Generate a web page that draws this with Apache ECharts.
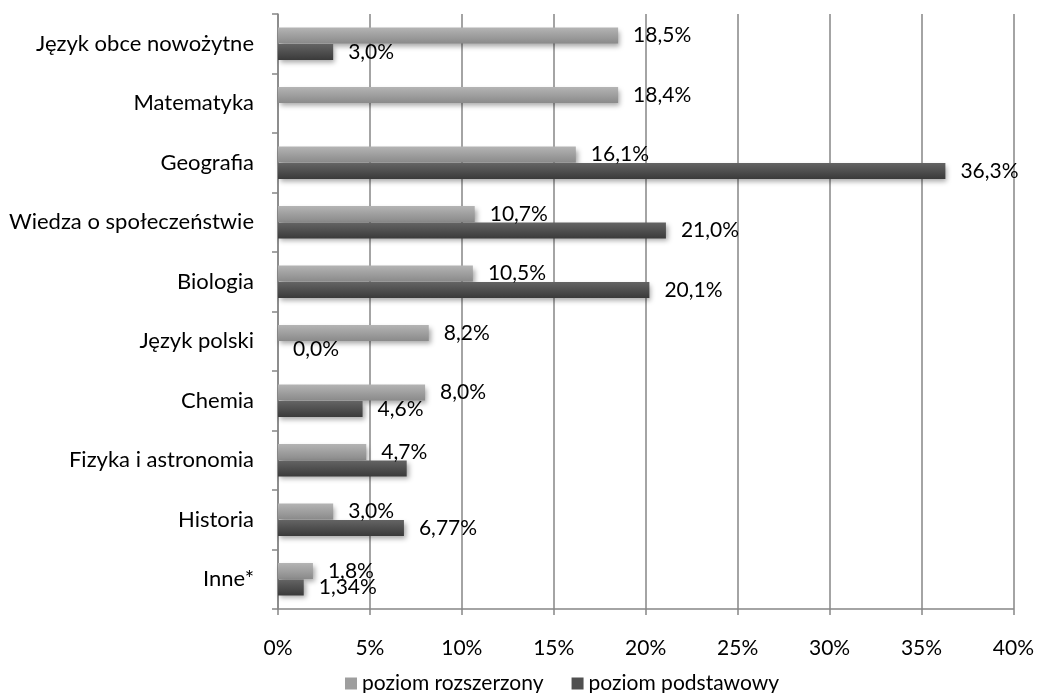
<!DOCTYPE html>
<html>
<head>
<meta charset="utf-8">
<script src="https://cdn.jsdelivr.net/npm/echarts@6/dist/echarts.min.js"></script>
<style>
  html, body { margin: 0; padding: 0; background: #fff; }
  #chart { width: 1037px; height: 693px; }
</style>
</head>
<body>
<div id="chart"></div>
<script>
const categories = [
  "Język obce nowożytne", "Matematyka", "Geografia", "Wiedza o społeczeństwie",
  "Biologia", "Język polski", "Chemia", "Fizyka i astronomia", "Historia", "Inne*"
];
// bar lengths as drawn (%)
const rozszerzony = [18.5, 18.5, 16.2, 10.7, 10.6, 8.2, 8.0, 4.8, 3.0, 1.9];
const podstawowy = [3.0, null, 36.3, 21.1, 20.2, 0, 4.6, 7.0, 6.85, 1.4];
// label texts as printed
const rozszerzonyLabels = ["18,5%", "18,4%", "16,1%", "10,7%", "10,5%", "8,2%", "8,0%", "4,7%", "3,0%", "1,8%"];
const podstawowyLabels = ["3,0%", "", "36,3%", "21,0%", "20,1%", "0,0%", "4,6%", "", "6,77%", "1,34%"];
const xTicks = [0, 5, 10, 15, 20, 25, 30, 35, 40];

const FONT = "Lato";

function gradient(top, bottom) {
  return new echarts.graphic.LinearGradient(0, 0, 0, 1, [
    { offset: 0, color: top },
    { offset: 1, color: bottom },
  ]);
}

let chart = echarts.init(document.getElementById("chart"));
let option = {
  animation: false,
  textStyle: { fontFamily: FONT },
  grid: {
    left: 278,
    right: 23,
    top: 14,
    bottom: 84,
  },
  legend: {
    left: 340,
    top: 668,
    itemWidth: 12,
    itemHeight: 12,
    itemGap: 28,
    icon: "rect",
    textStyle: { fontFamily: FONT, fontSize: 21, color: "#000", padding: [0, 0, 0, 0] },
    data: [
      { name: "poziom rozszerzony", itemStyle: { color: "#9e9e9e" } },
      { name: "poziom podstawowy", itemStyle: { color: "#505050" } },
    ],
  },
  xAxis: {
    type: "value",
    min: xTicks[0],
    max: xTicks[xTicks.length - 1],
    interval: 5,
    axisLine: { show: true, lineStyle: { color: "#868686", width: 1.5 } },
    axisTick: { show: true, length: 6, lineStyle: { color: "#868686", width: 1.5 } },
    splitLine: { show: true, lineStyle: { color: "#868686", width: 1.5 } },
    axisLabel: {
      margin: 29,
      fontFamily: FONT,
      fontSize: 21,
      color: "#000",
      formatter: (v) => v + "%",
    },
  },
  yAxis: {
    type: "category",
    inverse: true,
    data: categories,
    axisLine: { show: true, lineStyle: { color: "#868686", width: 1.5 } },
    axisTick: { show: true, length: 6, lineStyle: { color: "#868686", width: 1.5 } },
    axisLabel: {
      margin: 24,
      fontFamily: FONT,
      fontSize: 22,
      color: "#000",
    },
  },
  series: [
    {
      name: "poziom rozszerzony",
      type: "bar",
      data: rozszerzony,
      barWidth: 16,
      barGap: "3%",
      itemStyle: {
        color: gradient("#b4b4b4", "#8a8a8a"),
        shadowColor: "rgba(0,0,0,0.35)",
        shadowBlur: 5,
        shadowOffsetX: 2,
        shadowOffsetY: 3,
      },
      label: {
        show: true,
        position: "right",
        distance: 15,
        fontFamily: FONT,
        fontSize: 21,
        color: "#000",
        formatter: (p) => rozszerzonyLabels[p.dataIndex],
      },
    },
    {
      name: "poziom podstawowy",
      type: "bar",
      data: podstawowy,
      barWidth: 16,
      itemStyle: {
        color: gradient("#646464", "#3a3a3a"),
        shadowColor: "rgba(0,0,0,0.35)",
        shadowBlur: 5,
        shadowOffsetX: 2,
        shadowOffsetY: 3,
      },
      label: {
        show: true,
        position: "right",
        distance: 15,
        fontFamily: FONT,
        fontSize: 21,
        color: "#000",
        formatter: (p) => podstawowyLabels[p.dataIndex],
      },
    },
  ],
};
option && chart.setOption(option);
</script>
</body>
</html>
